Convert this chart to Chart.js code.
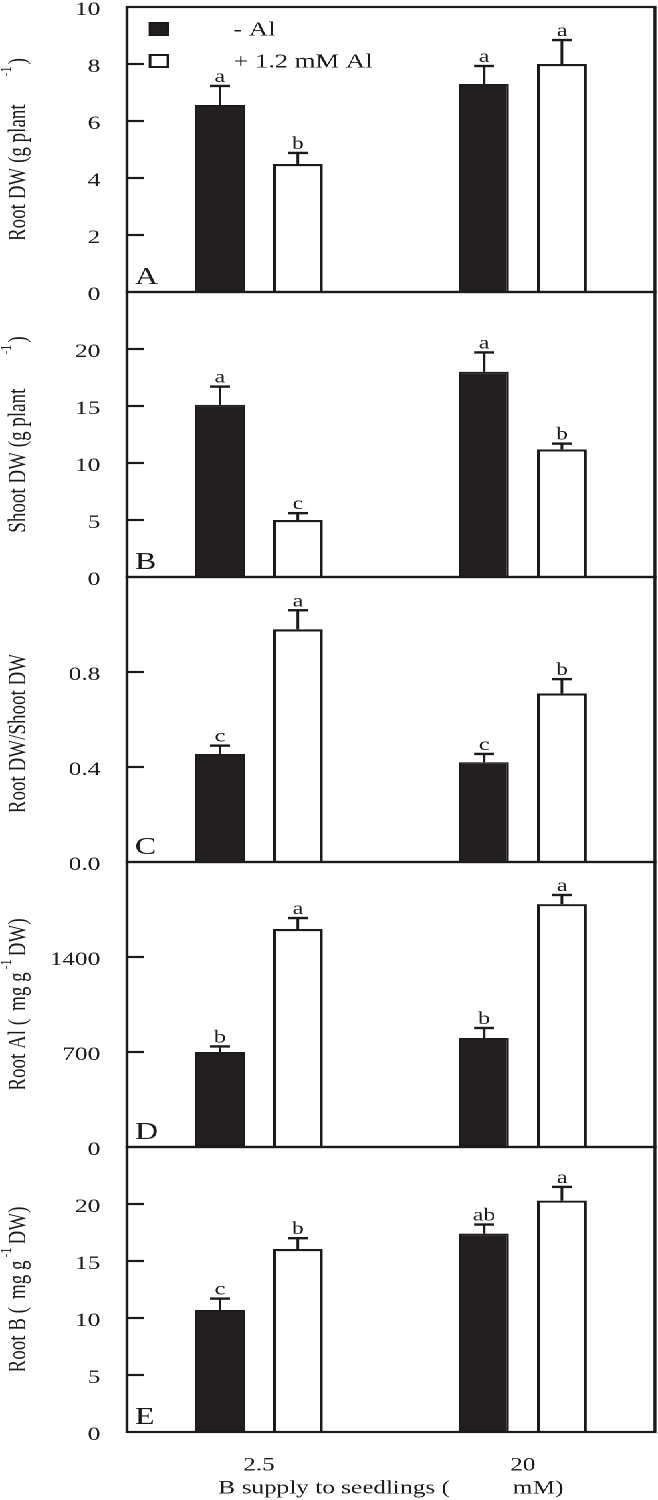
<!DOCTYPE html>
<html>
<head>
<meta charset="utf-8">
<script src="https://cdn.jsdelivr.net/npm/chart.js@4.4.1/dist/chart.umd.min.js"></script>
<style>
html, body { margin: 0; padding: 0; background: #fff; overflow: hidden; }
/* the figure is drawn narrow and stretched sideways, like the original scan */
#figure { position: absolute; left: 0; top: 0; width: 495px; height: 1500px;
          transform: scaleX(1.32929); transform-origin: 0 0; }
.panel { position: absolute; left: 0; width: 495px; }
</style>
</head>
<body>
<div id="figure"></div>
<script>
// B supply (uM) and treatments
const categories = ['2.5', '20'];
const seriesNames = ['- Al', '+ 1.2 mM Al'];

// A: root DW
const rootDW_noAl = [6.56, 7.30];
const rootDW_noAl_se = [0.67, 0.63];
const rootDW_noAl_sig = ['a', 'a'];
const rootDW_Al = [4.49, 8.00];
const rootDW_Al_se = [0.39, 0.84];
const rootDW_Al_sig = ['b', 'a'];
const rootDW_ticks = [0, 2, 4, 6, 8, 10];
const rootDW_tickLabels = ['0', '2', '4', '6', '8', '10'];

// B: shoot DW
const shootDW_noAl = [15.1, 18.0];
const shootDW_noAl_se = [1.6, 1.7];
const shootDW_noAl_sig = ['a', 'a'];
const shootDW_Al = [5.0, 11.2];
const shootDW_Al_se = [0.6, 0.5];
const shootDW_Al_sig = ['c', 'b'];
const shootDW_ticks = [0, 5, 10, 15, 20, 25];
const shootDW_tickLabels = ['0', '5', '10', '15', '20', ''];

// C: root/shoot ratio
const ratio_noAl = [0.455, 0.42];
const ratio_noAl_se = [0.035, 0.035];
const ratio_noAl_sig = ['c', 'c'];
const ratio_Al = [0.98, 0.71];
const ratio_Al_se = [0.08, 0.06];
const ratio_Al_sig = ['a', 'b'];
const ratio_ticks = [0, 0.4, 0.8, 1.2];
const ratio_tickLabels = ['0.0', '0.4', '0.8', ''];

// D: root Al
const rootAl_noAl = [700, 803];
const rootAl_noAl_se = [41, 74];
const rootAl_noAl_sig = ['b', 'b'];
const rootAl_Al = [1606, 1790];
const rootAl_Al_se = [81, 67];
const rootAl_Al_sig = ['a', 'a'];
const rootAl_ticks = [0, 700, 1400, 2100];
const rootAl_tickLabels = ['0', '700', '1400', ''];

// E: root B
const rootB_noAl = [10.7, 17.4];
const rootB_noAl_se = [1.0, 0.8];
const rootB_noAl_sig = ['c', 'ab'];
const rootB_Al = [16.05, 20.3];
const rootB_Al_se = [0.95, 1.2];
const rootB_Al_sig = ['b', 'a'];
const rootB_ticks = [0, 5, 10, 15, 20, 25];
const rootB_tickLabels = ['0', '5', '10', '15', '20', ''];

const xTitle = 'B supply to seedlings (          mM)';

const FONT = '"Liberation Serif", "Times New Roman", serif';
const INK = '#1a1a1a';
const BLACK_FILL = '#231f20';

const panels = [
  { letter: 'A', noAl: rootDW_noAl, noAlSe: rootDW_noAl_se, noAlSig: rootDW_noAl_sig,
    al: rootDW_Al, alSe: rootDW_Al_se, alSig: rootDW_Al_sig,
    ticks: rootDW_ticks, tickLabels: rootDW_tickLabels, legend: true,
    title: [{t: 'Root DW (g plant'}, {gap: 28}, {t: '-1', sup: true}, {gap: 2}, {t: ')'}] },
  { letter: 'B', noAl: shootDW_noAl, noAlSe: shootDW_noAl_se, noAlSig: shootDW_noAl_sig,
    al: shootDW_Al, alSe: shootDW_Al_se, alSig: shootDW_Al_sig,
    ticks: shootDW_ticks, tickLabels: shootDW_tickLabels,
    title: [{t: 'Shoot DW (g plant'}, {gap: 34}, {t: '-1', sup: true}, {gap: 2}, {t: ')'}] },
  { letter: 'C', noAl: ratio_noAl, noAlSe: ratio_noAl_se, noAlSig: ratio_noAl_sig,
    al: ratio_Al, alSe: ratio_Al_se, alSig: ratio_Al_sig,
    ticks: ratio_ticks, tickLabels: ratio_tickLabels, titleDy: 14,
    title: [{t: 'Root DW/Shoot DW'}] },
  { letter: 'D', noAl: rootAl_noAl, noAlSe: rootAl_noAl_se, noAlSig: rootAl_noAl_sig,
    al: rootAl_Al, alSe: rootAl_Al_se, alSig: rootAl_Al_sig,
    ticks: rootAl_ticks, tickLabels: rootAl_tickLabels,
    title: [{t: 'Root Al ('}, {gap: 8}, {t: 'mg g'}, {gap: 3}, {t: '-1', sup: true}, {gap: 3}, {t: 'DW)'}] },
  { letter: 'E', noAl: rootB_noAl, noAlSe: rootB_noAl_se, noAlSig: rootB_noAl_sig,
    al: rootB_Al, alSe: rootB_Al_se, alSig: rootB_Al_sig,
    ticks: rootB_ticks, tickLabels: rootB_tickLabels,
    title: [{t: 'Root B ('}, {gap: 8}, {t: 'mg g'}, {gap: 3}, {t: '-1', sup: true}, {gap: 3}, {t: 'DW)'}] }
];

function drawTitle(ctx, segs, cx, cy) {
  ctx.save();
  ctx.translate(cx, cy);
  ctx.rotate(-Math.PI / 2);
  let total = 0;
  segs.forEach(s => {
    if (s.gap) { total += s.gap; return; }
    ctx.font = (s.sup ? '12px ' : '19px ') + FONT;
    s.w = ctx.measureText(s.t).width;
    total += s.w;
  });
  let x = -total / 2;
  ctx.fillStyle = INK;
  ctx.textAlign = 'left';
  ctx.textBaseline = 'alphabetic';
  segs.forEach(s => {
    if (s.gap) { x += s.gap; return; }
    ctx.font = (s.sup ? '12px ' : '19px ') + FONT;
    ctx.fillText(s.t, x, s.sup ? -11 : 0);
    x += s.w;
  });
  ctx.restore();
}

const panelDecor = {
  id: 'panelDecor',
  afterDatasetsDraw(chart, args, opts) {
    const ctx = chart.ctx, a = chart.chartArea, y = chart.scales.y;
    const p = opts.panel;
    ctx.save();
    ctx.strokeStyle = INK;
    ctx.fillStyle = INK;

    // error bars and letters
    chart.data.datasets.forEach((ds, di) => {
      chart.getDatasetMeta(di).data.forEach((bar, i) => {
        const top = y.getPixelForValue(ds.data[i]);
        const errTop = y.getPixelForValue(ds.data[i] + ds.se[i]);
        ctx.lineWidth = 2;
        ctx.beginPath(); ctx.moveTo(bar.x, top); ctx.lineTo(bar.x, errTop); ctx.stroke();
        ctx.lineWidth = 2.4;
        ctx.beginPath(); ctx.moveTo(bar.x - 7.5, errTop); ctx.lineTo(bar.x + 7.5, errTop); ctx.stroke();
        ctx.font = '18px ' + FONT;
        ctx.textAlign = 'center';
        ctx.textBaseline = 'alphabetic';
        ctx.fillText(ds.sig[i], bar.x, errTop - 4);
      });
    });

    // frame
    ctx.lineWidth = 2.2;
    ctx.strokeRect(a.left, a.top, a.right - a.left, a.bottom - a.top);

    // inward tick marks
    p.ticks.forEach(v => {
      if (v <= y.min || v >= y.max) return;
      const py = y.getPixelForValue(v);
      ctx.beginPath(); ctx.moveTo(a.left, py); ctx.lineTo(a.left + 12.5, py); ctx.stroke();
    });

    // panel letter
    ctx.font = '24px ' + FONT;
    ctx.textAlign = 'left';
    ctx.textBaseline = 'alphabetic';
    ctx.fillText(p.letter, a.left + 6, a.bottom - 8);

    // y title
    drawTitle(ctx, p.title, 18.8, (a.top + a.bottom) / 2 + (p.titleDy || 0));

    // legend
    if (p.legend) {
      chart.data.datasets.forEach((ds, di) => {
        const cy = a.top + 22 + di * 32;
        ctx.fillStyle = ds.backgroundColor;
        ctx.fillRect(a.left + 17.3, cy - 6, 13.5, 12);
        ctx.lineWidth = 2;
        ctx.strokeRect(a.left + 17.3, cy - 6, 13.5, 12);
        ctx.fillStyle = INK;
        ctx.font = '20px ' + FONT;
        ctx.textAlign = 'left';
        ctx.textBaseline = 'middle';
        ctx.fillText(ds.label, a.left + 80, cy + 1);
      });
    }
    ctx.restore();
  }
};

const fig = document.getElementById('figure');
panels.forEach((p, idx) => {
  const last = idx === panels.length - 1;
  const plotTop = 7 + 285 * idx;
  const h = last ? 1500 - (plotTop - 15) : 315;
  const wrap = document.createElement('div');
  wrap.className = 'panel';
  wrap.style.top = (plotTop - 15) + 'px';
  wrap.style.height = h + 'px';
  const canvas = document.createElement('canvas');
  canvas.width = 495;
  canvas.height = h;
  canvas.style.width = '495px';
  canvas.style.height = h + 'px';
  wrap.appendChild(canvas);
  fig.appendChild(wrap);

  const barOpts = { categoryPercentage: 0.59, barPercentage: 0.64, borderColor: INK, borderSkipped: 'start' };

  new Chart(canvas, {
    type: 'bar',
    data: {
      labels: categories,
      datasets: [
        Object.assign({ label: seriesNames[0], data: p.noAl, se: p.noAlSe, sig: p.noAlSig,
          backgroundColor: BLACK_FILL, borderWidth: 1.5 }, barOpts),
        Object.assign({ label: seriesNames[1], data: p.al, se: p.alSe, sig: p.alSig,
          backgroundColor: '#ffffff', borderWidth: 2.2 }, barOpts)
      ]
    },
    options: {
      responsive: false,
      animation: false,
      devicePixelRatio: 2,
      layout: { padding: { top: 15, bottom: last ? 0 : 15, left: 0, right: 2.3 } },
      plugins: {
        legend: { display: false },
        tooltip: { enabled: false },
        panelDecor: { panel: p }
      },
      scales: {
        x: {
          display: last,
          grid: { display: false, drawTicks: false },
          border: { display: false },
          ticks: { color: INK, font: { family: FONT, size: 19 }, padding: 22 },
          title: { display: true, text: xTitle, color: INK, font: { family: FONT, size: 19 },
                   padding: { top: 2, bottom: 0 } },
          afterFit: s => {
            s.height = last ? 68 : 0;
            s.paddingLeft = 0; s.paddingRight = 0;
          }
        },
        y: {
          min: 0,
          max: p.ticks[p.ticks.length - 1],
          afterBuildTicks: s => { s.ticks = p.ticks.map(v => ({ value: v })); },
          afterFit: s => {
            s.width = 95.5;
            s.paddingTop = 0; s.paddingBottom = 0;
          },
          grid: { display: false, drawTicks: false },
          border: { display: false },
          ticks: { color: INK, font: { family: FONT, size: 19 }, padding: 20, labelOffset: 3,
                   autoSkip: false, callback: (v, i) => p.tickLabels[i] }
        }
      }
    },
    plugins: [panelDecor]
  });
});
</script>
</body>
</html>
